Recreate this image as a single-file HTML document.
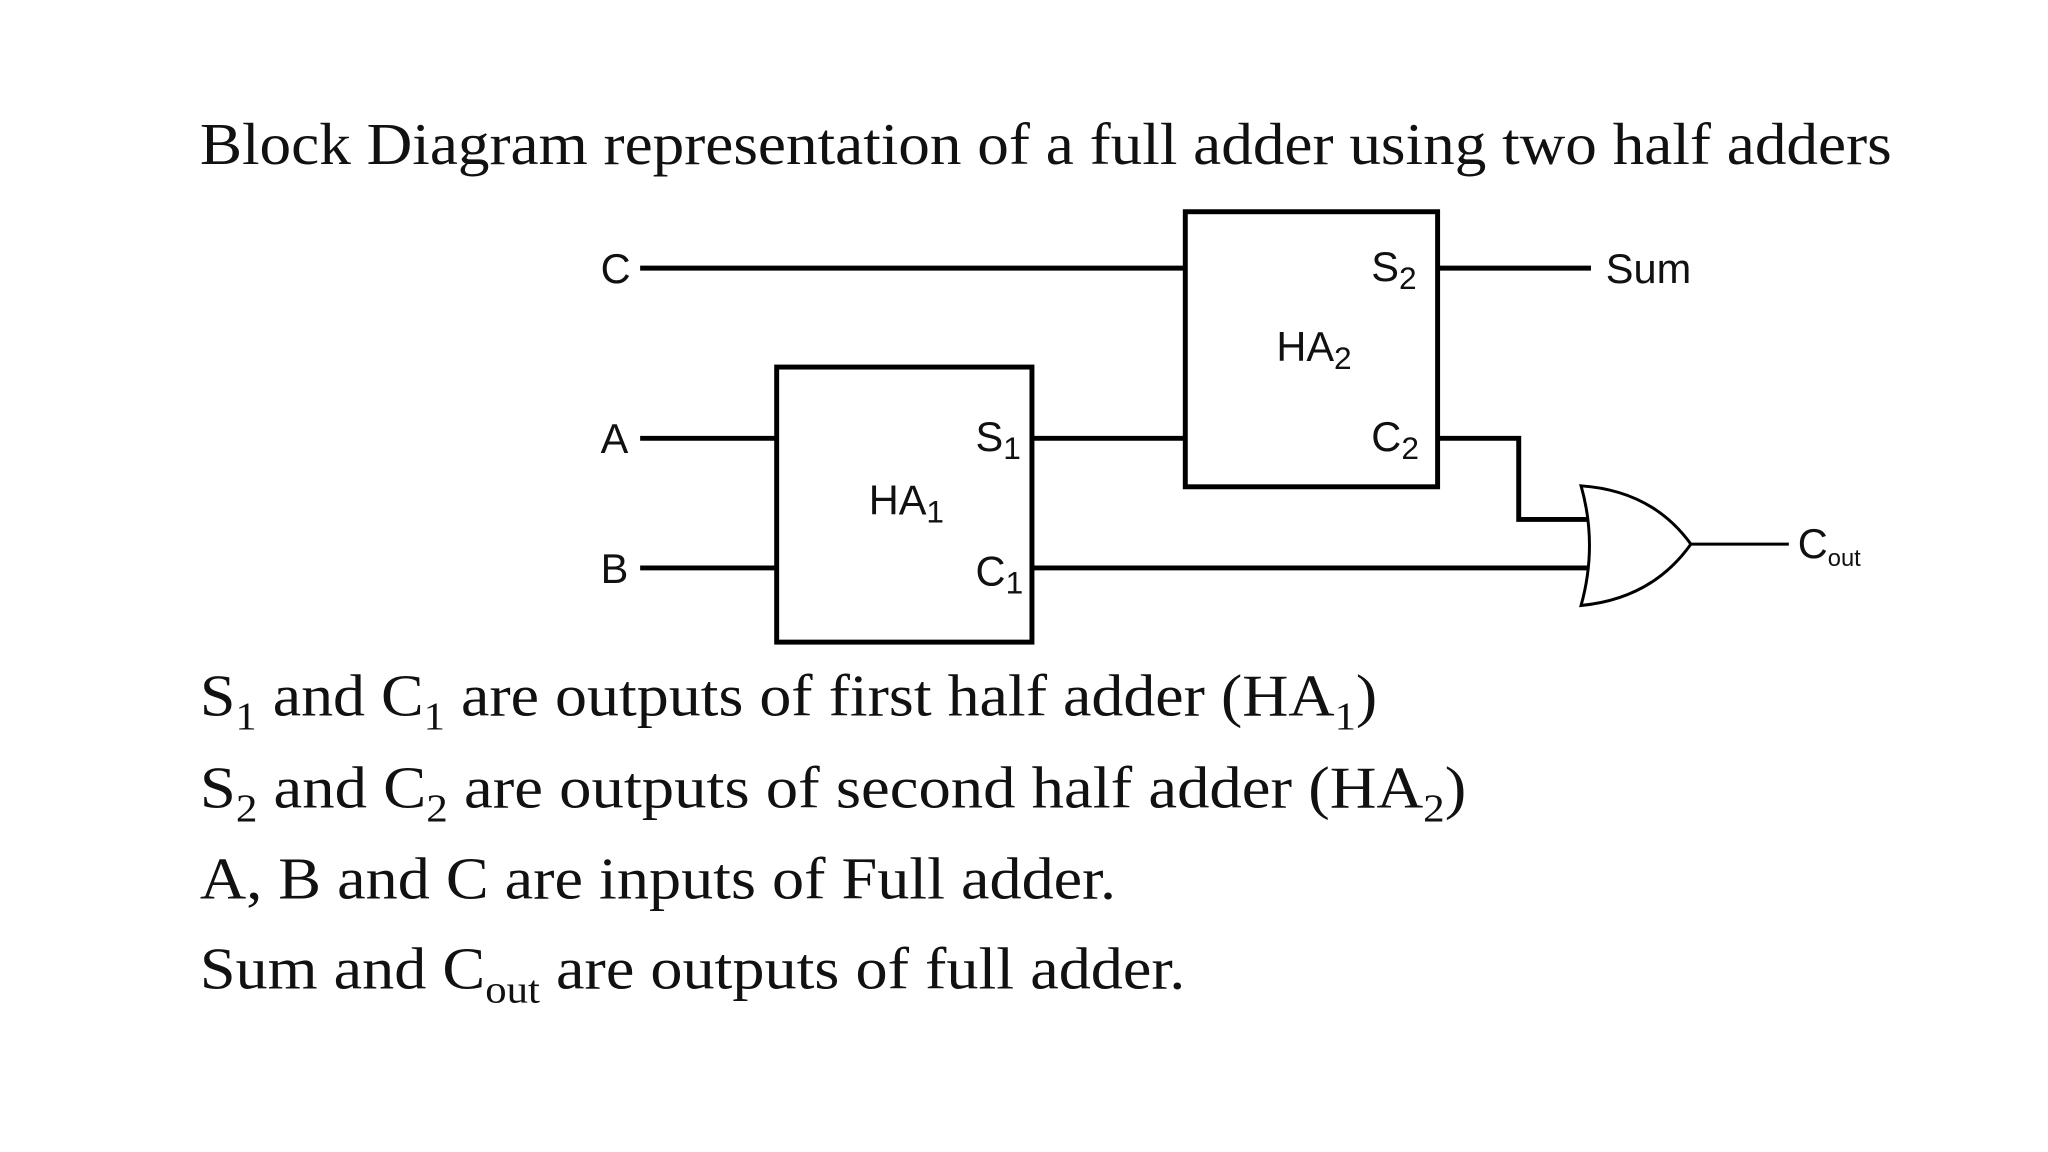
<!DOCTYPE html>
<html><head><meta charset="utf-8"><style>html,body{margin:0;padding:0;background:#fff}svg{display:block}</style></head>
<body>
<svg width="2048" height="1152" viewBox="0 0 2048 1152" xmlns="http://www.w3.org/2000/svg">
<rect width="2048" height="1152" fill="#fff"/>
<g transform="scale(0.9894)">
<g font-family="Liberation Serif, serif" fill="#111" font-size="60">
<text x="202" y="166" textLength="1710" lengthAdjust="spacingAndGlyphs">Block Diagram representation of a full adder using two half adders</text>
<text x="202" y="723" textLength="1190" lengthAdjust="spacingAndGlyphs">S<tspan font-size="40" dy="14">1</tspan><tspan dy="-14"> and C</tspan><tspan font-size="40" dy="14">1</tspan><tspan dy="-14"> are outputs of first half adder (HA</tspan><tspan font-size="40" dy="14">1</tspan><tspan dy="-14">)</tspan></text>
<text x="202" y="816" textLength="1280" lengthAdjust="spacingAndGlyphs">S<tspan font-size="40" dy="14">2</tspan><tspan dy="-14"> and C</tspan><tspan font-size="40" dy="14">2</tspan><tspan dy="-14">  are outputs of second half adder (HA</tspan><tspan font-size="40" dy="14">2</tspan><tspan dy="-14">)</tspan></text>
<text x="202" y="908" textLength="926" lengthAdjust="spacingAndGlyphs">A, B and C are inputs of Full adder.</text>
<text x="202" y="999" textLength="996" lengthAdjust="spacingAndGlyphs">Sum and C<tspan font-size="40" dy="14">out</tspan><tspan dy="-14"> are outputs of full adder.</tspan></text>
</g>
<g stroke="#000" stroke-width="5" fill="none">
<rect x="1198" y="214" width="255" height="278"/>
<rect x="785" y="371" width="258" height="278"/>
<line x1="647" y1="271" x2="1198" y2="271"/>
<line x1="1453" y1="271" x2="1608" y2="271"/>
<line x1="647" y1="443" x2="785" y2="443"/>
<line x1="1043" y1="443" x2="1198" y2="443"/>
<line x1="647" y1="574" x2="785" y2="574"/>
<line x1="1043" y1="574" x2="1606" y2="574"/>
<polyline points="1453,443 1535,443 1535,525 1606,525"/>
</g>
<g stroke="#000" stroke-width="3" fill="none">
<path d="M1598,491 Q1615,551 1598,612 Q1670,605 1709,550 Q1670,496 1598,491 Z"/>
<line x1="1709" y1="550" x2="1808" y2="550"/>
</g>
<g font-family="Liberation Sans, sans-serif" fill="#111" font-size="42">
<text x="607" y="286">C</text>
<text x="607" y="458">A</text>
<text x="607" y="589">B</text>
<text x="1386" y="284">S<tspan font-size="32" dy="8">2</tspan></text>
<text x="1623" y="286">Sum</text>
<text x="1290" y="365">HA<tspan font-size="32" dy="8">2</tspan></text>
<text x="1386" y="456">C<tspan font-size="32" dy="8">2</tspan></text>
<text x="986" y="456">S<tspan font-size="32" dy="8">1</tspan></text>
<text x="878" y="520">HA<tspan font-size="32" dy="8">1</tspan></text>
<text x="986" y="592">C<tspan font-size="32" dy="8">1</tspan></text>
<text x="1817" y="564">C<tspan font-size="24" dy="8">out</tspan></text>
</g>
</g>
</svg>
</body></html>
